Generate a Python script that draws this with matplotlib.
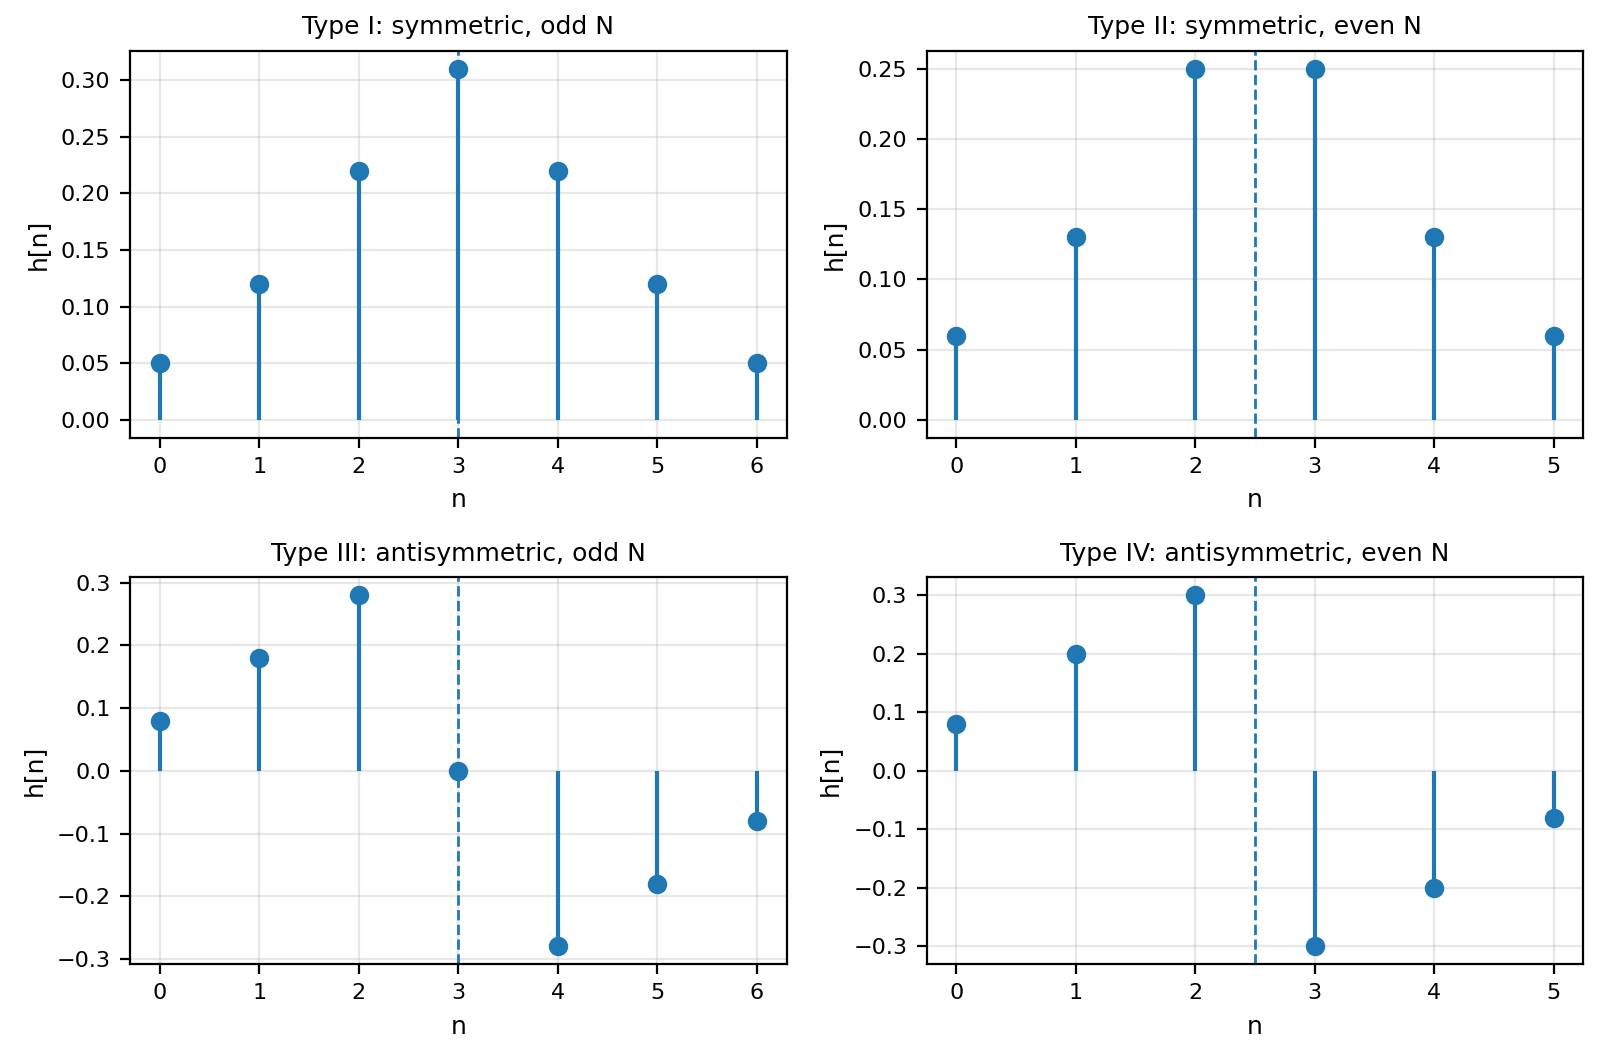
import numpy as np
import matplotlib
matplotlib.use("Agg")
import matplotlib.pyplot as plt

plt.rcParams["font.size"] = 8

titles = ["Type I: symmetric, odd N", "Type II: symmetric, even N",
          "Type III: antisymmetric, odd N", "Type IV: antisymmetric, even N"]
h1 = [0.05, 0.12, 0.22, 0.31, 0.22, 0.12, 0.05]
h2 = [0.06, 0.13, 0.25, 0.25, 0.13, 0.06]
h3 = [0.08, 0.18, 0.28, 0.0, -0.28, -0.18, -0.08]
h4 = [0.08, 0.2, 0.3, -0.3, -0.2, -0.08]
responses = [h1, h2, h3, h4]

fig, axes = plt.subplots(2, 2, figsize=(8.005, 5.29), dpi=200)

for ax, h, title in zip(axes.flat, responses, titles):
    n = np.arange(len(h))
    ax.stem(n, h, basefmt=" ")
    ax.axvline((len(h) - 1) / 2, color="C0", linestyle="--", linewidth=1)
    ax.set_title(title, fontsize=9)
    ax.set_xlabel("n", fontsize=9)
    ax.set_ylabel("h[n]", fontsize=9)
    ax.grid(True, alpha=0.3)

plt.subplots_adjust(left=0.0812, right=0.989, top=0.9518, bottom=0.0888,
                    wspace=0.213, hspace=0.362)
plt.savefig("out.png", dpi=200)
